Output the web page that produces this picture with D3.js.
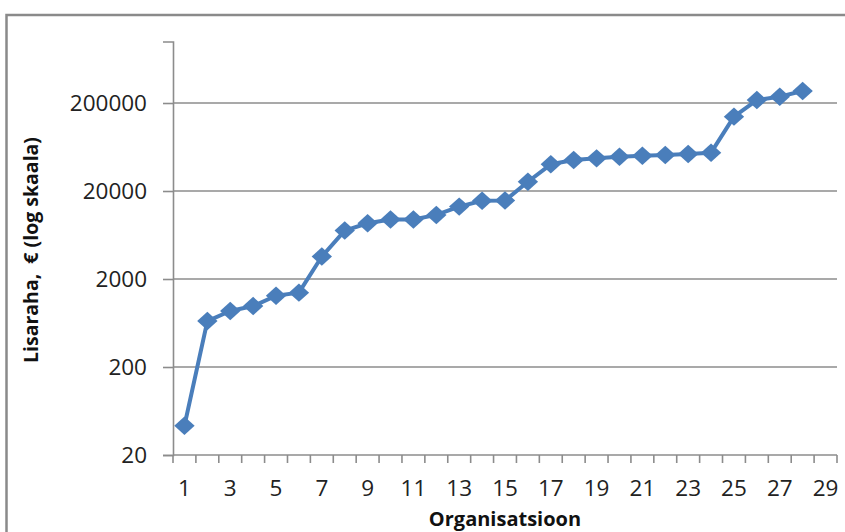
<!DOCTYPE html>
<html>
<head>
<meta charset="utf-8">
<script src="https://cdn.jsdelivr.net/npm/d3@7"></script>
<style>
  body { margin: 0; background: #fff; }
  svg { display: block; }
</style>
</head>
<body>
<div id="chart"></div>
<script>
// data
const organisations = d3.range(1, 29);
const amounts = [43, 665, 865, 985, 1290, 1400, 3600, 7100, 8600, 9500, 9500, 10700, 13300,
                 15500, 15600, 25500, 40200, 45000, 47000, 49000, 50400, 51300, 52600, 54500,
                 140000, 216000, 236000, 274000];
const categories = d3.range(1, 30);
const yTicks = [20, 200, 2000, 20000, 200000];
const xLabels = d3.range(1, 30, 2);

// globals
let width = 845, height = 532;
let plotLeft = 173, plotRight = 837, plotTop = 41.5, plotBottom = 455;

let svg = d3.select('#chart')
    .append('svg')
    .attr('width', width)
    .attr('height', height);

// outer frame of the chart
svg.append('rect')
    .attr('x', 6.5).attr('y', 15)
    .attr('width', width).attr('height', height)
    .attr('fill', 'none')
    .attr('stroke', '#8a8a8a')
    .attr('stroke-width', 2.5);

let x = d3.scaleBand()
    .domain(categories)
    .range([plotLeft, plotRight]);

let y = d3.scaleLog()
    .domain([20, 1e6])
    .range([plotBottom, plotTop]);

let cx = d => x(d) + x.bandwidth() / 2;

// horizontal gridlines
svg.selectAll('line.grid')
    .data(yTicks.slice(1))
    .enter()
    .append('line')
    .attr('class', 'grid')
    .attr('x1', plotLeft).attr('x2', plotRight)
    .attr('y1', d => y(d)).attr('y2', d => y(d))
    .style('stroke', '#8c8c8c')
    .style('stroke-width', 1.6);

// y axis
let yAxis = d3.axisLeft(y)
    .tickValues(yTicks)
    .tickFormat(d3.format('d'))
    .tickSize(10)
    .tickPadding(16);

let gy = svg.append('g')
    .attr('transform', `translate(${plotLeft},0)`)
    .call(yAxis);

// x axis, ticks on category boundaries
let xAxis = d3.axisBottom(x)
    .tickSize(0)
    .tickPadding(25)
    .tickFormat(d => xLabels.includes(d) ? d : '');

let gx = svg.append('g')
    .attr('transform', `translate(0,${plotBottom})`)
    .call(xAxis);

gx.selectAll('line.bound')
    .data(categories.concat([null]))
    .enter()
    .append('line')
    .attr('class', 'bound')
    .attr('x1', d => d === null ? plotRight : x(d))
    .attr('x2', d => d === null ? plotRight : x(d))
    .attr('y1', 0).attr('y2', 8);

[gx, gy].forEach(g => {
    g.select('.domain').style('stroke', '#8c8c8c').style('stroke-width', 1.6);
    g.selectAll('line').style('stroke', '#8c8c8c').style('stroke-width', 1.6);
    g.selectAll('text')
        .style('font-family', '"Open Sans", sans-serif')
        .style('font-size', '22.5px')
        .style('fill', '#222');
});
gx.select('.domain').attr('d', `M${plotLeft},0H${plotRight}`);

// line
let line = d3.line()
    .x((d, i) => cx(organisations[i]))
    .y(d => y(d));

svg.append('path')
    .datum(amounts)
    .attr('d', line)
    .attr('fill', 'none')
    .attr('stroke', '#4a7ebb')
    .attr('stroke-width', 4)
    .attr('stroke-linejoin', 'round');

// diamond markers
let diamond = d3.symbol().type(d3.symbolDiamond2).size(240);

svg.selectAll('path.mark')
    .data(amounts)
    .enter()
    .append('path')
    .attr('class', 'mark')
    .attr('d', diamond)
    .attr('transform', (d, i) => `translate(${cx(organisations[i])},${y(d)}) scale(1.05,0.95)`)
    .attr('fill', '#4a7ebb');

// axis titles
svg.append('text')
    .attr('x', 505).attr('y', 526)
    .attr('text-anchor', 'middle')
    .style('font-family', '"Open Sans", sans-serif')
    .style('font-weight', 'bold')
    .style('font-size', '20px')
    .style('fill', '#111')
    .text('Organisatsioon');

svg.append('text')
    .attr('transform', 'translate(38,250) rotate(-90)')
    .attr('text-anchor', 'middle')
    .style('font-family', '"Open Sans", sans-serif')
    .style('font-weight', 'bold')
    .style('font-size', '19.5px')
    .style('fill', '#111')
    .attr('xml:space', 'preserve')
    .text('Lisaraha,  € (log skaala)');
</script>
</body>
</html>
